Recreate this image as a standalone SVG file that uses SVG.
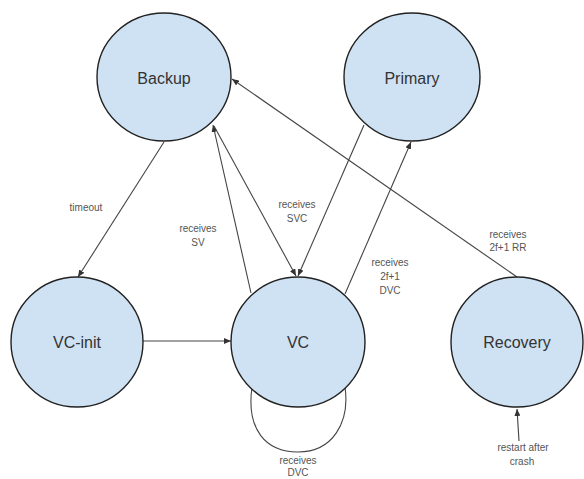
<svg xmlns="http://www.w3.org/2000/svg" width="584" height="479" viewBox="0 0 584 479">
<defs>
<style>
.node ellipse{fill:#cfe2f3;stroke:#222;stroke-width:1.4}
.node text{font-family:"Liberation Sans",Arial,sans-serif;font-size:16px;fill:#333;text-anchor:middle}
.edges line,.edges path{stroke:#444;stroke-width:1.1;fill:none}
.lbl{font-family:"Liberation Sans",Arial,sans-serif;font-size:10px;fill:#555;text-anchor:middle}
</style>
<marker id="ah" markerWidth="7" markerHeight="6" refX="7" refY="3" orient="auto" markerUnits="userSpaceOnUse">
<path d="M0,0 L7,3 L0,6 Z" fill="#333"/>
</marker>
</defs>
<rect width="584" height="479" fill="#fff"/>
<g class="edges">
<line x1="164" y1="142" x2="78" y2="277" marker-end="url(#ah)"/>
<line x1="251" y1="293" x2="213" y2="125" marker-end="url(#ah)"/>
<line x1="214" y1="126" x2="296" y2="276" marker-end="url(#ah)"/>
<line x1="364" y1="125" x2="298" y2="276" marker-end="url(#ah)"/>
<line x1="345" y1="294" x2="411" y2="142" marker-end="url(#ah)"/>
<line x1="517" y1="277" x2="232" y2="79" marker-end="url(#ah)"/>
<line x1="143" y1="341" x2="231" y2="341" marker-end="url(#ah)"/>
<path d="M252,387 C246,430 266,452 298,452 C333,452 350,422 345,387"/>
<line x1="519" y1="441" x2="517" y2="409" marker-end="url(#ah)"/>
</g>
<g id="backup" class="node"><ellipse cx="164" cy="77" rx="67" ry="64"/><text x="164" y="84">Backup</text></g>
<g id="primary" class="node"><ellipse cx="412" cy="77" rx="68" ry="64"/><text x="412" y="84">Primary</text></g>
<g id="vc-init" class="node"><ellipse cx="77" cy="342" rx="66" ry="65"/><text x="77" y="348">VC-init</text></g>
<g id="vc" class="node"><ellipse cx="298" cy="342" rx="67" ry="65"/><text x="298" y="348">VC</text></g>
<g id="recovery" class="node"><ellipse cx="517" cy="342" rx="66" ry="65"/><text x="517" y="348">Recovery</text></g>
<g id="labels">
<text class="lbl" x="86" y="211">timeout</text>
<text class="lbl" x="198" y="232">receives</text>
<text class="lbl" x="198" y="246">SV</text>
<text class="lbl" x="297" y="208">receives</text>
<text class="lbl" x="297" y="222">SVC</text>
<text class="lbl" x="390" y="266">receives</text>
<text class="lbl" x="390" y="280">2f+1</text>
<text class="lbl" x="390" y="294">DVC</text>
<text class="lbl" x="508" y="238">receives</text>
<text class="lbl" x="508" y="251">2f+1 RR</text>
<text class="lbl" x="298" y="464">receives</text>
<text class="lbl" x="298" y="476">DVC</text>
<text class="lbl" x="523" y="451">restart after</text>
<text class="lbl" x="522" y="465">crash</text>
</g>
</svg>
